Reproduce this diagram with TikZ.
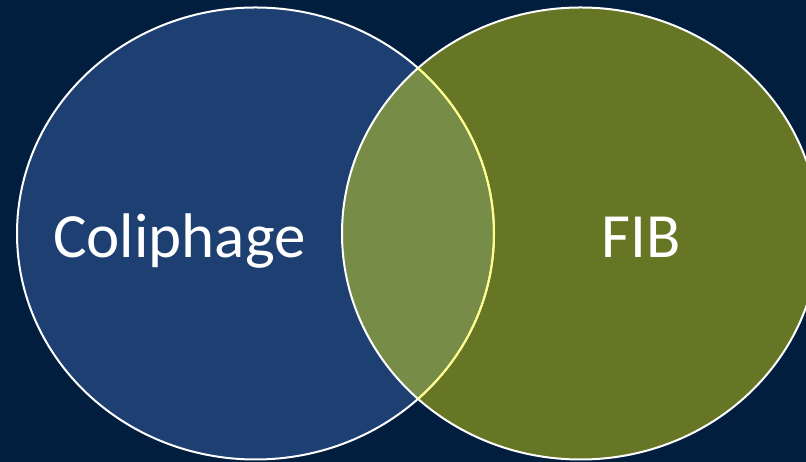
\documentclass[tikz,border=0pt]{standalone}
\usepackage{fontspec}
\setmainfont{Carlito}
\definecolor{bgnavy}{HTML}{021E3E}
\definecolor{leftblue}{HTML}{1E3F71}
\definecolor{rightgreen}{HTML}{667624}
\definecolor{lensgreen}{HTML}{778C47}
\definecolor{lensline}{HTML}{FFFF88}
\tikzset{
  vennline/.style={draw=white, line width=2pt},
  venntext/.style={text=white, font=\fontsize{63}{70}\selectfont, anchor=base, inner sep=0pt}
}
\begin{document}
\begin{tikzpicture}[x=1pt,y=1pt]
\fill[bgnavy] (0,0) rectangle (806,462);
\useasboundingbox (0,0) rectangle (806,462);
\coordinate (cl) at (255.5,228.5);
\coordinate (cr) at (580.5,228.5);
\fill[leftblue] (cl) ellipse [x radius=238.5, y radius=226];
\fill[rightgreen] (cr) ellipse [x radius=238.5, y radius=226];
\begin{scope}
  \clip (cl) ellipse [x radius=238.5, y radius=226];
  \fill[lensgreen] (cr) ellipse [x radius=238.5, y radius=226];
\end{scope}
\draw[vennline] (cl) ellipse [x radius=238.5, y radius=226];
\draw[vennline] (cr) ellipse [x radius=238.5, y radius=226];
\begin{scope}
  \clip (cr) ellipse [x radius=238.5, y radius=226];
  \draw[vennline, draw=lensline] (cl) ellipse [x radius=238.5, y radius=226];
\end{scope}
\node[venntext] (coli) at (179.5,204) {Coliphage};
\node[venntext] (fib) at (641,204) {FIB};
\end{tikzpicture}
\end{document}
